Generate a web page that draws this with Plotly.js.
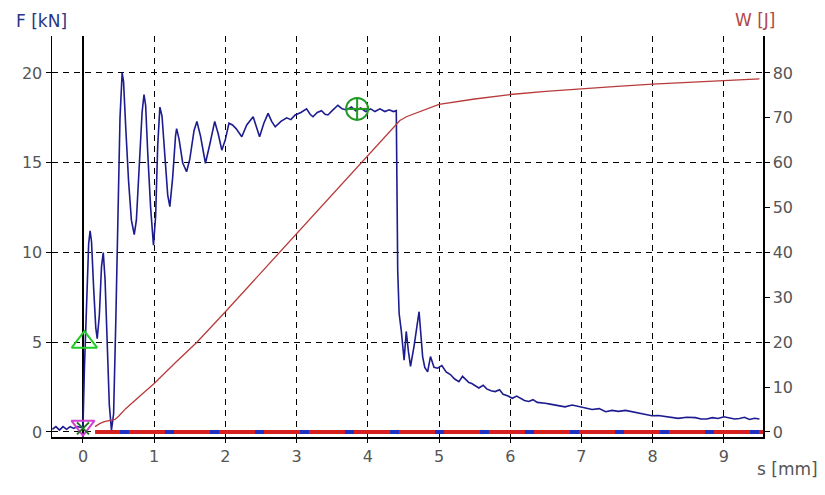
<!DOCTYPE html>
<html>
<head>
<meta charset="utf-8">
<script src="https://cdn.plot.ly/plotly-3.0.1.min.js"></script>
<style>html,body{margin:0;padding:0;background:#fff;}#chart{width:825px;height:495px;}</style>
</head>
<body>
<div id="chart"></div>
<script>
// Force F [kN] vs displacement s [mm]
var forceS = [-0.43,-0.38,-0.33,-0.28,-0.23,-0.18,-0.13,-0.08,-0.03,0.0,
  0.02,0.05,0.08,0.1,0.12,0.15,0.18,0.2,0.23,0.26,0.285,0.31,0.34,0.37,0.40,0.43,0.46,0.49,0.52,0.55,
  0.57,0.60,0.64,0.68,0.72,0.75,0.79,0.83,0.857,0.88,0.91,0.95,0.99,1.02,1.05,1.08,1.11,1.15,1.19,1.22,
  1.26,1.3,1.315,1.35,1.40,1.455,1.5,1.56,1.6,1.65,1.72,1.78,1.85,1.9,1.95,2.0,2.05,2.1,2.15,2.23,
  2.3,2.39,2.44,2.48,2.54,2.6,2.65,2.7,2.78,2.86,2.92,2.98,3.06,3.14,3.19,3.23,3.29,3.35,3.4,3.44,
  3.5,3.58,3.64,3.70,3.77,3.83,3.9,3.97,4.04,4.1,4.17,4.24,4.3,4.36,4.40,4.41,4.42,4.44,4.47,4.51,
  4.54,4.57,4.6,4.65,4.69,4.72,4.75,4.77,4.8,4.84,4.88,4.93,4.98,5.04,5.1,5.16,5.22,5.28,5.33,5.37,
  5.42,5.46,5.51,5.56,5.62,5.67,5.73,5.79,5.85,5.9,5.97,6.03,6.09,6.15,6.2,6.26,6.32,6.38,6.44,6.49,
  6.56,6.63,6.7,6.77,6.87,6.97,7.06,7.15,7.25,7.34,7.43,7.52,7.62,7.71,7.78,7.85,7.92,7.99,8.08,8.18,
  8.27,8.36,8.48,8.6,8.68,8.76,8.84,8.92,9.0,9.07,9.15,9.22,9.29,9.36,9.43,9.5];
var forceF = [0.15,0.3,0.1,0.3,0.15,0.3,0.2,0.3,0.25,0.3,
  3.5,7.0,10.5,11.2,10.6,8.0,5.8,5.2,6.5,9.2,10.0,8.5,5.0,1.5,0.1,1.0,6.0,12.0,17.5,20.0,
  19.5,17.0,14.0,11.8,11.0,11.8,15.0,17.8,18.8,18.2,15.5,12.5,10.4,12.0,16.0,18.1,17.6,15.5,13.2,12.55,
  14.2,16.5,16.9,16.3,15.0,14.5,15.2,16.8,17.3,16.5,14.97,16.0,17.3,16.6,15.7,16.3,17.2,17.1,16.9,16.45,
  17.1,17.56,17.0,16.45,17.2,17.75,17.3,17.0,17.3,17.5,17.4,17.66,17.8,18.0,17.7,17.56,17.8,17.9,17.7,17.66,
  17.9,18.2,18.0,17.94,18.1,17.9,18.05,17.85,18.0,17.85,18.0,17.85,17.95,17.85,17.9,12.0,9.0,6.6,5.65,4.0,
  5.6,4.5,3.65,4.8,5.9,6.7,5.2,4.2,3.6,3.35,4.2,3.6,3.55,3.7,3.35,3.2,2.95,2.8,3.1,2.95,
  2.75,2.7,2.55,2.45,2.6,2.4,2.3,2.25,2.35,2.1,2.0,1.88,2.0,1.85,1.75,1.7,1.8,1.65,1.6,1.6,
  1.55,1.5,1.45,1.4,1.5,1.41,1.3,1.25,1.3,1.13,1.2,1.15,1.2,1.13,1.05,1.0,0.95,0.9,0.92,0.85,
  0.8,0.76,0.82,0.8,0.72,0.72,0.8,0.75,0.85,0.8,0.72,0.75,0.82,0.7,0.76,0.72];

// Energy W [J] vs displacement s [mm]
var energyS = [0.17,0.24,0.3,0.38,0.45,0.5,0.6,0.8,1.0,1.3,1.6,2.0,2.5,3.0,3.5,3.83,4.0,4.2,4.4,4.45,4.55,4.7,5.0,5.5,6.0,6.5,7.0,7.5,8.0,8.5,9.0,9.5];
var energyW = [1.2,1.9,2.3,2.6,2.8,3.5,5.2,8.0,10.8,15.5,20.0,26.8,35.5,44.3,53.0,58.5,61.5,65.0,68.6,69.4,70.3,71.2,73.0,74.2,75.2,75.9,76.5,77.0,77.5,77.9,78.3,78.7];

// Baseline (zero level) extent
var baseS = [0.17, 9.55];
var baseF = [0, 0];
var dashS = [0.52, 9.55];

// Markers
var triUp = {s: [0.02], F: [5.0]};
var triDown = {s: [0.0], F: [0.35]};
var crossMark = {s: [0.0], F: [0.2]};
var maxMark = {s: [3.85], F: [18.0]};

var traces = [
  {x: baseS, y: baseF, mode: 'lines', line: {color: '#d42020', width: 4}, hoverinfo: 'skip', showlegend: false},
  {x: dashS, y: baseF, mode: 'lines', line: {color: '#2030c0', width: 4, dash: '9px,36px'}, hoverinfo: 'skip', showlegend: false},
  {x: energyS, y: energyW, yaxis: 'y2', mode: 'lines', line: {color: '#b83a3a', width: 1.3}, showlegend: false},
  {x: forceS, y: forceF, mode: 'lines', line: {color: '#1c1c90', width: 1.6}, showlegend: false},
  {x: triUp.s, y: triUp.F, mode: 'markers', marker: {symbol: 'triangle-up-open', size: 22, color: '#22cc22', line: {width: 2, color: '#22cc22'}}, showlegend: false},
  {x: triDown.s, y: triDown.F, mode: 'markers', marker: {symbol: 'triangle-down-open', size: 20, color: '#d040d0', line: {width: 2, color: '#d040d0'}}, showlegend: false},
  {x: crossMark.s, y: crossMark.F, mode: 'markers', marker: {symbol: 'x-thin-open', size: 12, color: '#207020', line: {width: 2, color: '#207020'}}, showlegend: false},
  {x: maxMark.s, y: maxMark.F, mode: 'markers', marker: {symbol: 'line-ew-open', size: 16, color: '#c08040', line: {width: 2, color: '#c08040'}}, showlegend: false},
  {x: maxMark.s, y: maxMark.F, mode: 'markers', marker: {symbol: 'circle-cross-open', size: 22, color: '#229922', line: {width: 2, color: '#229922'}}, showlegend: false}
];

var fam = 'DejaVu Sans, Verdana, sans-serif';
var tickFont = {family: fam, size: 16, color: '#555555'};

var layout = {
  width: 825, height: 495,
  margin: {l: 52, r: 62, t: 36, b: 58, pad: 0},
  paper_bgcolor: '#ffffff', plot_bgcolor: '#ffffff',
  font: {family: fam},
  xaxis: {
    range: [-0.435, 9.55], tick0: 0, dtick: 1,
    showgrid: true, gridcolor: '#000000', gridwidth: 1, griddash: '6px,5px',
    zeroline: true, zerolinecolor: '#000000', zerolinewidth: 2.5,
    showline: true, linecolor: '#000000', linewidth: 2,
    ticks: 'outside', ticklen: 4, tickcolor: '#000000',
    tickfont: tickFont, fixedrange: true
  },
  yaxis: {
    range: [-0.28, 22.06], tick0: 0, dtick: 5,
    showgrid: true, gridcolor: '#000000', gridwidth: 1, griddash: '6px,5px',
    zeroline: false,
    showline: true, linecolor: '#000000', linewidth: 1.5,
    ticks: 'outside', ticklen: 5, tickcolor: '#000000',
    tickfont: tickFont, fixedrange: true
  },
  yaxis2: {
    overlaying: 'y', side: 'right',
    range: [-1.12, 88.24], tick0: 0, dtick: 10,
    showgrid: false, zeroline: false,
    showline: true, linecolor: '#000000', linewidth: 1.5,
    ticks: 'outside', ticklen: 5, tickcolor: '#000000',
    tickfont: tickFont, fixedrange: true
  },
  annotations: [
    {text: 'F [kN]', xref: 'paper', yref: 'paper', x: -0.0148, y: 1.037, xanchor: 'center', yanchor: 'middle', showarrow: false,
     font: {family: fam, size: 17, color: '#2a3585'}},
    {text: 'W [J]', xref: 'paper', yref: 'paper', x: 0.990, y: 1.04, xanchor: 'center', yanchor: 'middle', showarrow: false,
     font: {family: fam, size: 17, color: '#b04848'}},
    {text: 's [mm]', xref: 'paper', yref: 'paper', x: 1.034, y: -0.08, xanchor: 'center', yanchor: 'middle', showarrow: false,
     font: {family: fam, size: 17, color: '#555555'}}
  ],
  showlegend: false
};

Plotly.newPlot('chart', traces, layout, {displayModeBar: false, staticPlot: true});
</script>
</body>
</html>
